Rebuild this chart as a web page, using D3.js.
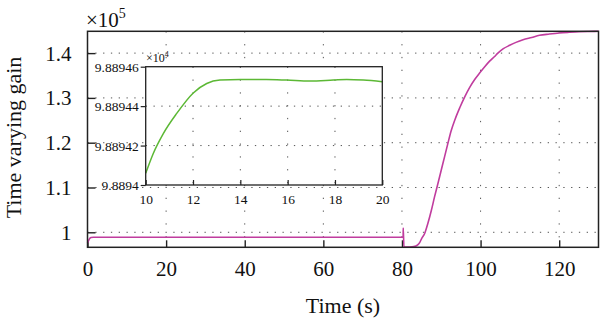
<!DOCTYPE html>
<html><head><meta charset="utf-8">
<script src="https://cdn.jsdelivr.net/npm/d3@7"></script>
<style>body{margin:0;background:#fff}svg{display:block}text{font-family:"Liberation Serif","DejaVu Serif",serif;fill:#111}</style>
</head><body>
<svg id="c" width="600" height="325"></svg>
<script>
// main series: time (s) and gain (x1e5)
const mainT = [0,0.3,0.6,0.9,1.5,2,10,20,40,60,80,80.3,80.32,80.5,81,82,83,84,84.5,85,85.8,86.6,87.5,88.3,89.15,90,90.85,91.7,92.5,93.5,94.7,96,97.2,98.5,99.8,101,102.3,103.5,104.4,105.8,107.4,109,110.8,113,115,117.5,120,122.5,125,127.5,130];
const mainV = [0.9765,0.982,0.9865,0.9885,0.98893,0.98894,0.98894,0.98894,0.98894,0.98894,0.98894,0.98894,1.0096,0.968,0.967,0.9672,0.968,0.972,0.977,0.986,0.998,1.020,1.0498,1.0795,1.109,1.139,1.169,1.199,1.226,1.252,1.278,1.303,1.323,1.341,1.356,1.369,1.382,1.392,1.400,1.410,1.4174,1.424,1.430,1.435,1.4397,1.4425,1.4449,1.4465,1.4478,1.4484,1.4487];
// inset series: time (s) and gain (x1e4)
const insetT = [10,10.32,10.75,11.31,12.01,12.58,13.14,14,15.1,15.96,16.94,17.93,18.5,19.2,20];
const insetV = [9.8894059,9.889416,9.8894262,9.8894363,9.8894467,9.8894515,9.8894532,9.8894535,9.8894535,9.8894532,9.8894527,9.8894532,9.8894535,9.8894532,9.8894524];
const mainXTicks = [0,20,40,60,80,100,120];
const mainYTicks = [1,1.1,1.2,1.3,1.4];
const mainYLabels = ["1","1.1","1.2","1.3","1.4"];
const insetXTicks = [10,12,14,16,18,20];
const insetYTicks = [9.8894,9.88942,9.88944,9.88946];
const insetYLabels = ["9.8894","9.88942","9.88944","9.88946"];

const svg = d3.select("#c");
const L=87.5,R=598.5,T=31.3,B=247.3;
const x = d3.scaleLinear().domain([0,130]).range([L,R]);
const y = d3.scaleLinear().domain([0.9665,1.4487]).range([B,T]);
const gridCol="#555";

// main grid
svg.append("g").selectAll("line").data(mainXTicks.filter(d=>d>0)).join("line")
  .attr("x1",d=>x(d)).attr("x2",d=>x(d)).attr("y1",T).attr("y2",B)
  .attr("stroke",gridCol).attr("stroke-width",1).attr("stroke-dasharray","1.3,11.5");
svg.append("g").selectAll("line").data(mainYTicks).join("line")
  .attr("x1",L).attr("x2",R).attr("y1",d=>y(d)).attr("y2",d=>y(d))
  .attr("stroke",gridCol).attr("stroke-width",1).attr("stroke-dasharray","1.3,6.5");

// main axes (inward ticks)
const xAx = svg.append("g").attr("transform",`translate(0,${B})`)
  .call(d3.axisBottom(x).tickValues(mainXTicks).tickSizeInner(-7).tickSizeOuter(0).tickPadding(14));
const yAx = svg.append("g").attr("transform",`translate(${L},0)`)
  .call(d3.axisLeft(y).tickValues(mainYTicks).tickFormat((d,i)=>mainYLabels[i]).tickSizeInner(-8).tickSizeOuter(0).tickPadding(16));
[xAx,yAx].forEach(g=>{g.select(".domain").remove();g.selectAll("line").attr("stroke","#222").attr("stroke-width",1.4);
  g.selectAll("text").style("font-size","21px").style("font-family","'Liberation Serif',serif").attr("fill","#111");});
xAx.selectAll("text").attr("dy","0.71em");
yAx.selectAll("text").attr("dy","0.33em");

// main curve
const line = d3.line().x((d,i)=>x(mainT[i])).y(d=>y(d)).curve(d3.curveMonotoneX);
svg.append("path").datum(mainV).attr("d",line).attr("fill","none").attr("stroke","#c03c9e").attr("stroke-width",1.6);

// main box
svg.append("rect").attr("x",L).attr("y",T).attr("width",R-L).attr("height",B-T)
  .attr("fill","none").attr("stroke","#222").attr("stroke-width",1.5);

// exponent label
const ex = svg.append("text").attr("x",86).attr("y",27).style("font-size","21px");
ex.append("tspan").text("×10");
ex.append("tspan").attr("dy",-9).style("font-size","14px").text("5");

// axis titles
svg.append("text").attr("x",(L+R)/2).attr("y",313).attr("text-anchor","middle").style("font-size","22px").text("Time (s)");
svg.append("text").attr("transform","translate(21,137.5) rotate(-90)").attr("text-anchor","middle").style("font-size","22px").text("Time varying gain");

// inset
const iL=145.7,iR=382.3,iT=66.7,iB=185;
const xi = d3.scaleLinear().domain([10,20]).range([iL,iR]);
const yi = d3.scaleLinear().domain([9.8894,9.88946]).range([iB,iT]);
svg.append("rect").attr("x",iL).attr("y",iT).attr("width",iR-iL).attr("height",iB-iT).attr("fill","#fff");
svg.append("g").selectAll("line").data(insetXTicks.slice(1,-1)).join("line")
  .attr("x1",d=>xi(d)).attr("x2",d=>xi(d)).attr("y1",iT).attr("y2",iB)
  .attr("stroke",gridCol).attr("stroke-dasharray","1.3,11.5");
svg.append("g").selectAll("line").data(insetYTicks.slice(1,-1)).join("line")
  .attr("x1",iL).attr("x2",iR).attr("y1",d=>yi(d)).attr("y2",d=>yi(d))
  .attr("stroke",gridCol).attr("stroke-dasharray","1.3,6.5");
const xiAx = svg.append("g").attr("transform",`translate(0,${iB})`)
  .call(d3.axisBottom(xi).tickValues(insetXTicks).tickSizeInner(-5).tickSizeOuter(0).tickPadding(9));
const yiAx = svg.append("g").attr("transform",`translate(${iL},0)`)
  .call(d3.axisLeft(yi).tickValues(insetYTicks).tickFormat((d,i)=>insetYLabels[i]).tickSizeInner(5).tickSizeOuter(0).tickPadding(2));
[xiAx,yiAx].forEach(g=>{g.select(".domain").remove();g.selectAll("line").attr("stroke","#222").attr("stroke-width",1.2);
  g.selectAll("text").style("font-size","13.5px").style("font-family","'Liberation Serif',serif").attr("fill","#111");});
xiAx.selectAll("text").attr("dy","0.71em");
yiAx.selectAll("text").attr("dy","0.33em");
const lineI = d3.line().x((d,i)=>xi(insetT[i])).y(d=>yi(d)).curve(d3.curveMonotoneX);
svg.append("path").datum(insetV).attr("d",lineI).attr("fill","none").attr("stroke","#5cb835").attr("stroke-width",1.5);
svg.append("rect").attr("x",iL).attr("y",iT).attr("width",iR-iL).attr("height",iB-iT)
  .attr("fill","none").attr("stroke","#222").attr("stroke-width",1.3);
const ex4 = svg.append("text").attr("x",146).attr("y",62).style("font-size","12px").attr("fill","#333");
ex4.append("tspan").text("×10");
ex4.append("tspan").attr("dy",-5).style("font-size","8px").text("4");
</script>
</body></html>
